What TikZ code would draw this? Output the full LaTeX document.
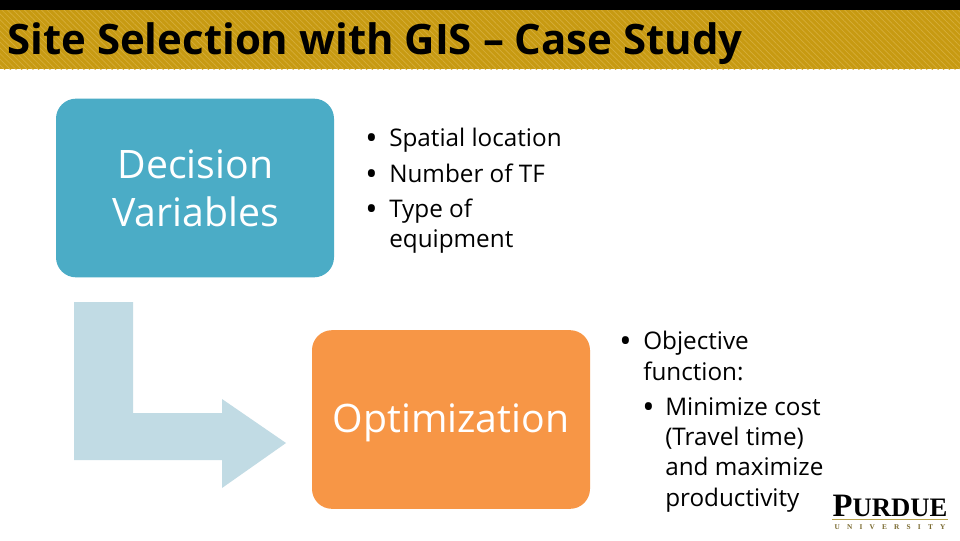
\documentclass[tikz,border=0pt]{standalone}
\usepackage{fontspec}
\setmainfont{Open Sans}
\newfontfamily\serifcaps{Liberation Serif}
\usetikzlibrary{patterns.meta}
\definecolor{gold}{HTML}{C79A12}
\definecolor{goldlite}{HTML}{D6AE3A}
\definecolor{teal2}{HTML}{4BACC6}
\definecolor{orange2}{HTML}{F79646}
\definecolor{arrowc}{HTML}{C1DBE4}
\definecolor{puline}{HTML}{B8A24A}
\definecolor{pugrey}{HTML}{7A6A30}
\tikzset{
  px/.style={x=0.75pt,y=-0.75pt},
  stagebox/.style={fill=#1,draw=none,rounded corners=15pt,minimum width=208.5pt,minimum height=134pt,inner sep=0pt},
  big/.style={text=white,font=\fontsize{29.4}{36}\selectfont,align=center},
  bul/.style={text=black,font=\fontsize{18.2}{22.8}\selectfont,align=left,anchor=base west,inner sep=0pt},
  dot/.style={text=black,font=\fontsize{24.5}{24.5}\selectfont,anchor=base west,inner sep=0pt},
}
\begin{document}
\begin{tikzpicture}[px]
\useasboundingbox (0,0) rectangle (960,540);
\fill[white] (0,0) rectangle (960,540);
\fill[gold] (0,10) rectangle (960,69);
\fill[pattern={Lines[angle=-45,distance=3pt,line width=0.5pt]},pattern color=goldlite] (0,10) rectangle (960,69);
\fill[black] (0,0) rectangle (960,10);
\node[anchor=base west,inner sep=0pt,font=\fontsize{31.45}{36}\bfseries\selectfont] (title) at (7,54) {Site Selection with GIS – Case Study};
\node[stagebox=teal2] (dv) at (195,188) {};
\node[big] (dvt) at (195.5,188) {Decision\\Variables};
\node[stagebox=orange2] (op) at (451,419.5) {};
\node[big] (opt) at (451,423) {Optimization};
\fill[arrowc] (74,302) -- (133,302) -- (133,413) -- (222,413) -- (222,399) -- (286,443) -- (222,488) -- (222,460) -- (74,460) -- cycle;
\node[dot] (d1) at (365,149) {•};
\node[bul] (b1) at (389,146) {Spatial location};
\node[dot] (d2) at (365,185) {•};
\node[bul] (b2) at (389,182) {Number of TF};
\node[dot] (d3) at (365,220) {•};
\node[bul] (b3) at (389,217) {Type of};
\node[bul] (b3b) at (389,247) {equipment};
\node[dot] (d4) at (619,352) {•};
\node[bul] (c1) at (643,349) {Objective};
\node[bul] (c1b) at (643,380) {function:};
\node[dot] (d5) at (642,418) {•};
\node[bul] (c2) at (665,415) {Minimize cost};
\node[bul] (c3) at (665,445) {(Travel time)};
\node[bul] (c4) at (665,475) {and maximize};
\node[bul] (c5) at (665,506) {productivity};
\node[anchor=base,inner sep=0pt,font=\serifcaps\bfseries\fontsize{24.5}{24}\selectfont] (pu) at (890,516) {P{\fontsize{20}{20}\selectfont URDUE}};
\fill[puline] (832,519) rectangle (948,520);
\node[anchor=base,inner sep=0pt,text=pugrey,font=\serifcaps\bfseries\fontsize{5.5}{6}\selectfont] (pu2) at (890,529) {U\hskip 5.4pt N\hskip 5.4pt I\hskip 5.4pt V\hskip 5.4pt E\hskip 5.4pt R\hskip 5.4pt S\hskip 5.4pt I\hskip 5.4pt T\hskip 5.4pt Y};
\end{tikzpicture}
\end{document}
